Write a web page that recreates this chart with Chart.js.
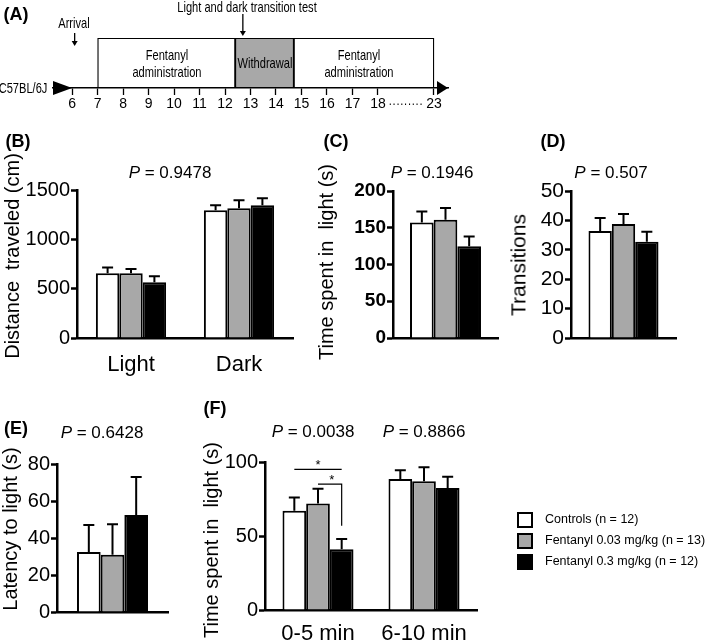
<!DOCTYPE html>
<html>
<head>
<meta charset="utf-8">
<script src="https://cdn.jsdelivr.net/npm/chart.js@4.4.1/dist/chart.umd.min.js"></script>
<style>
  body { margin: 0; background: #fff; width: 709px; height: 644px; position: relative; overflow: hidden;
         font-family: 'Liberation Sans', Arial, sans-serif; color: #000; }
  canvas { position: absolute; left: 0; top: 0; }
  .t { position: absolute; white-space: pre; transform: translate(-50%, -50%); line-height: 1.1; text-align: center; }
  .n { font-size: 15px; transform: translate(-50%, -50%) scaleX(0.74); }
  .v { transform: translate(-50%, -50%) rotate(-90deg); font-size: 20px; }
  .p { font-size: 17px; }
  .lbl { font-weight: bold; font-size: 18px; }
  .leg { position: absolute; left: 517px; font-size: 12.5px; white-space: pre; }
  .leg span { display: inline-block; width: 12px; height: 12px; border: 2px solid #000; vertical-align: middle; margin-right: 12px; }
</style>
</head>
<body>
<canvas id="cA" width="709" height="644"></canvas>
<canvas id="cB" width="709" height="644"></canvas>
<canvas id="cC" width="709" height="644"></canvas>
<canvas id="cD" width="709" height="644"></canvas>
<canvas id="cE" width="709" height="644"></canvas>
<canvas id="cF" width="709" height="644"></canvas>

<div class="t lbl" style="left:16px;top:15px">(A)</div>
<div class="t n" style="left:247px;top:7px">Light and dark transition test</div>
<div class="t n" style="left:74px;top:23px">Arrival</div>
<div class="t n" style="left:167px;top:63px;line-height:1.15">Fentanyl
administration</div>
<div class="t n" style="left:265px;top:63px">Withdrawal</div>
<div class="t n" style="left:359px;top:63px;line-height:1.15">Fentanyl
administration</div>
<div class="t n" style="left:23px;top:88px">C57BL/6J</div>
<div class="t n" style="left:406px;top:100px;letter-spacing:1px">.........</div>

<div class="t lbl" style="left:18px;top:142px">(B)</div>
<div class="t lbl" style="left:336px;top:142px">(C)</div>
<div class="t lbl" style="left:553px;top:142px">(D)</div>
<div class="t lbl" style="left:16px;top:429px">(E)</div>
<div class="t lbl" style="left:215px;top:409px">(F)</div>

<div class="t p" style="left:170px;top:173px"><i>P</i> = 0.9478</div>
<div class="t p" style="left:432px;top:173px"><i>P</i> = 0.1946</div>
<div class="t p" style="left:611px;top:173px"><i>P</i> = 0.507</div>
<div class="t p" style="left:102px;top:433px"><i>P</i> = 0.6428</div>
<div class="t p" style="left:313px;top:432px"><i>P</i> = 0.0038</div>
<div class="t p" style="left:424px;top:432px"><i>P</i> = 0.8866</div>

<div class="t v" style="left:12px;top:256px">Distance  traveled (cm)</div>
<div class="t v" style="left:326px;top:262px">Time spent in  light (s)</div>
<div class="t v" style="left:518px;top:265px;font-size:21px">Transitions</div>
<div class="t v" style="left:10px;top:529px">Latency to light (s)</div>
<div class="t v" style="left:211px;top:540px">Time spent in  light (s)</div>

<div id="legend"></div>

<script>
// groups (shared by panels B-F)
const groups = ['Controls (n = 12)', 'Fentanyl 0.03 mg/kg (n = 13)', 'Fentanyl 0.3 mg/kg (n = 12)'];
const groupColors = ['#ffffff', '#a8a8a8', '#000000'];

// (A) schedule, axis is broken between 18 and 23
const dayLabels = ['6', '7', '8', '9', '10', '11', '12', '13', '14', '15', '16', '17', '18', '23'];
const dayPos = [6, 7, 8, 9, 10, 11, 12, 13, 14, 15, 16, 17, 18, 20.2];
const periodNames = ['Fentanyl administration', 'Withdrawal', 'Fentanyl administration'];
const periodStart = [7, 12.4, 14.7];
const periodEnd = [12.4, 14.7, 23];
const periodColors = ['#ffffff', '#a8a8a8', '#ffffff'];
const arrivalMark = 6.1;
const testMark = 12.7;

// (B) distance traveled (cm)
const distLabels = ['Light', 'Dark'];
const distMean = [[655, 1295], [655, 1315], [565, 1345]];
const distSem = [[60, 50], [45, 80], [60, 72]];

// (C) time spent in light (s)
const timeMean = [[157], [161], [125]];
const timeSem = [[15], [16], [13]];

// (D) transitions
const transMean = [[36.4], [38.8], [32.7]];
const transSem = [[4.4], [3.4], [3.4]];

// (E) latency to light (s)
const latMean = [[32.5], [31], [52.5]];
const latSem = [[14.5], [16.5], [20.5]];

// (F) time spent in light by period (s)
const periodLabels = ['0-5 min', '6-10 min'];
const splitMean = [[67, 88.5], [72, 87], [41, 82.5]];
const splitSem = [[9, 6], [10, 9.5], [7, 7.5]];
const sigPairs = [[0, 2], [1, 2]];
const sigLevels = [95, 85];
const sigDrops = [null, 57];

const W = 709, H = 644;
const Y_W = 55;   // fixed y scale width so every plot area lands where it should
Chart.defaults.font.family = "'Liberation Sans', Arial, sans-serif";
Chart.defaults.color = '#000';

function pos(day) {
  const i = dayLabels.indexOf(String(day));
  return i >= 0 ? dayPos[i] : day;
}

const errorBars = {
  id: 'errorBars',
  afterDatasetsDraw(chart) {
    const ctx = chart.ctx, y = chart.scales.y;
    chart.data.datasets.forEach((ds, i) => {
      chart.getDatasetMeta(i).data.forEach((bar, j) => {
        const top = y.getPixelForValue(ds.data[j] + ds.sem[j]);
        ctx.save();
        ctx.strokeStyle = '#000';
        ctx.lineWidth = 2;
        ctx.beginPath();
        ctx.moveTo(bar.x, bar.y);
        ctx.lineTo(bar.x, top);
        ctx.moveTo(bar.x - 5.5, top);
        ctx.lineTo(bar.x + 5.5, top);
        ctx.stroke();
        ctx.restore();
      });
    });
  }
};

const brackets = {
  id: 'brackets',
  afterDatasetsDraw(chart) {
    const ctx = chart.ctx, y = chart.scales.y;
    ctx.save();
    ctx.strokeStyle = '#000';
    ctx.fillStyle = '#000';
    ctx.lineWidth = 1.2;
    ctx.font = "13px 'Liberation Sans', Arial, sans-serif";
    ctx.textAlign = 'center';
    ctx.textBaseline = 'middle';
    sigPairs.forEach(([a, b], k) => {
      const xa = chart.getDatasetMeta(a).data[0].x;
      const xb = chart.getDatasetMeta(b).data[0].x;
      const yl = y.getPixelForValue(sigLevels[k]);
      ctx.beginPath();
      ctx.moveTo(xa, yl);
      ctx.lineTo(xb, yl);
      if (sigDrops[k] !== null) ctx.lineTo(xb, y.getPixelForValue(sigDrops[k]));
      ctx.stroke();
      ctx.fillText('*', (xa + xb) / 2 + (k ? 2 : 0), yl - 4);
    });
    ctx.restore();
  }
};

function arrowDown(ctx, x, y1, y2) {
  ctx.beginPath();
  ctx.moveTo(x, y1);
  ctx.lineTo(x, y2 - 4);
  ctx.stroke();
  ctx.beginPath();
  ctx.moveTo(x - 3, y2 - 5);
  ctx.lineTo(x + 3, y2 - 5);
  ctx.lineTo(x, y2);
  ctx.closePath();
  ctx.fill();
}

const timelineArrows = {
  id: 'timelineArrows',
  afterDraw(chart) {
    const ctx = chart.ctx, x = chart.scales.x, area = chart.chartArea;
    const yb = area.bottom;
    const last = x.getPixelForValue(dayPos[dayPos.length - 1]);
    ctx.save();
    ctx.fillStyle = '#000';
    ctx.strokeStyle = '#000';
    ctx.lineWidth = 1.3;
    ctx.beginPath();
    ctx.moveTo(area.left, yb - 7);
    ctx.lineTo(area.left, yb + 7);
    ctx.lineTo(x.getPixelForValue(dayPos[0]), yb);
    ctx.closePath();
    ctx.fill();
    ctx.beginPath();
    ctx.moveTo(last + 3, yb - 7);
    ctx.lineTo(last + 3, yb + 7);
    ctx.lineTo(area.right, yb);
    ctx.closePath();
    ctx.fill();
    arrowDown(ctx, x.getPixelForValue(arrivalMark), 33, 46);
    arrowDown(ctx, x.getPixelForValue(testMark), 14, 36);
    ctx.restore();
  }
};

new Chart(document.getElementById('cA'), {
  type: 'bar',
  data: {
    labels: ['schedule'],
    datasets: periodNames.map((name, i) => ({
      label: name,
      data: [[pos(periodStart[i]), pos(periodEnd[i])]],
      backgroundColor: periodColors[i],
      borderColor: '#000',
      borderWidth: 1.3,
      borderSkipped: false,
      grouped: false,
      barPercentage: 1,
      categoryPercentage: 1
    }))
  },
  options: {
    indexAxis: 'y',
    responsive: false,
    animation: false,
    layout: { padding: { left: 53, top: 38, right: W - 448, bottom: H - 88 - 24 } },
    plugins: { legend: { display: false }, tooltip: { enabled: false } },
    scales: {
      y: { display: false },
      x: {
        type: 'linear', min: 5.25, max: 20.75,
        afterBuildTicks: s => { s.ticks = dayPos.map(v => ({ value: v })); },
        ticks: { callback: (v, i) => dayLabels[i], color: '#000', font: { size: 14 },
                 padding: 1, autoSkip: false, maxRotation: 0 },
        grid: { drawOnChartArea: false, tickLength: 7, tickWidth: 1.3, tickColor: '#000' },
        border: { width: 1.5, color: '#000' },
        afterFit: s => { s.height = 24; }
      }
    }
  },
  plugins: [timelineArrows]
});

function panel(id, area, labels, means, sems, yMax, yStep, tickFont, catPct, xPad, extra) {
  const xH = Math.min(40, H - area[3]);
  return new Chart(document.getElementById(id), {
    type: 'bar',
    data: {
      labels: labels,
      datasets: means.map((m, i) => ({
        label: groups[i],
        data: m,
        sem: sems[i],
        backgroundColor: groupColors[i],
        borderColor: '#000',
        borderWidth: 2
      }))
    },
    options: {
      responsive: false,
      animation: false,
      layout: { padding: { left: area[0] - Y_W, top: area[1], right: W - area[2], bottom: H - area[3] - xH } },
      plugins: { legend: { display: false }, tooltip: { enabled: false } },
      datasets: { bar: { categoryPercentage: catPct, barPercentage: 1 } },
      scales: {
        x: {
          grid: { display: false },
          border: { width: 2.5, color: '#000' },
          ticks: { color: '#000', font: { size: 22 }, padding: xPad, maxRotation: 0 },
          afterFit: s => { s.height = xH; }
        },
        y: {
          min: 0, max: yMax,
          ticks: { stepSize: yStep, color: '#000', font: tickFont, padding: 1, callback: v => String(v) },
          grid: { drawOnChartArea: false, tickLength: 6, tickWidth: 2.5, tickColor: '#000' },
          border: { width: 2.5, color: '#000' },
          afterFit: s => { s.width = Y_W; }
        }
      }
    },
    plugins: [errorBars].concat(extra || [])
  });
}

panel('cB', [77, 190, 293, 338], distLabels, distMean, distSem, 1500, 500, { size: 20 }, 0.65, 6);
panel('cC', [393, 191, 498, 338], [''], timeMean, timeSem, 200, 50, { size: 19, weight: 'bold' }, 0.676, 4);
panel('cD', [571, 191, 676, 338], [''], transMean, transSem, 50, 10, { size: 21 }, 0.667, 4);
panel('cE', [57, 464, 168, 612], [''], latMean, latSem, 80, 20, { size: 20 }, 0.64, 4);
panel('cF', [265, 462, 477, 610], periodLabels, splitMean, splitSem, 100, 50, { size: 20 }, 0.67, 3, [brackets]);

// legend
const legend = document.getElementById('legend');
const legendTops = [512, 533, 554];
groups.forEach((g, i) => {
  const row = document.createElement('div');
  row.className = 'leg';
  row.style.top = legendTops[i] + 'px';
  row.innerHTML = '<span style="background:' + groupColors[i] + '"></span>' + g;
  legend.appendChild(row);
});
</script>
</body>
</html>
